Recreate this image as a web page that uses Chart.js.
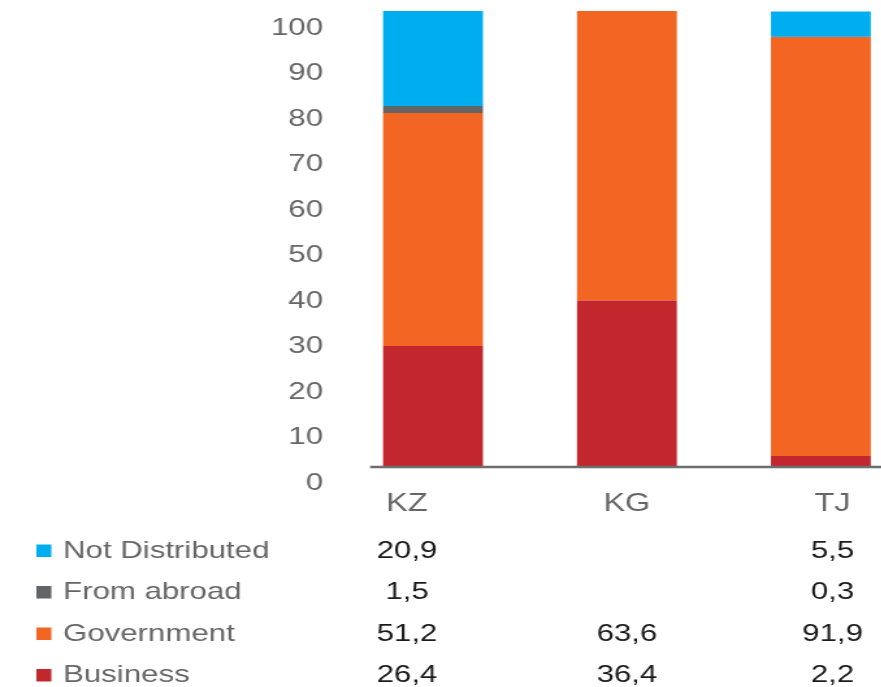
<!DOCTYPE html>
<html lang="en">
<head>
  <meta charset="UTF-8" />
  <title>R&amp;D Funding Sources</title>
  <script src="https://cdn.jsdelivr.net/npm/chart.js"></script>
  <style>
    body {
      margin: 0;
      background: #fff;
    }

    /* canvas is drawn narrow and widened by CSS, which gives the wide lettering */
    .wrap {
      width: 881px;
      height: 687px;
      overflow: hidden;
    }
  </style>
</head>
<body>

  <div class="wrap">
    <canvas id="fundingChart" width="710" height="687" style="display:block;width:923px;height:687px"></canvas>
  </div>

  <script>
    const countries = ['KZ', 'KG', 'TJ'];
    const business = [26.4, 36.4, 2.2];
    const government = [51.2, 63.6, 91.9];
    const fromAbroad = [1.5, null, 0.3];
    const notDistributed = [20.9, null, 5.5];

    const FONT = '"Liberation Sans", Arial, sans-serif';
    const GREY_TEXT = '#666666';

    // labels and table cells sit a little off the bar centres
    const colNudge = [-20, 0, 9];

    function fmt(v) {
      return v == null ? '' : v.toFixed(1).replace('.', ',');
    }

    // axis line, category labels and the value table underneath
    const tablePlugin = {
      id: 'dataTable',
      afterDatasetsDraw(chart) {
        const ctx = chart.ctx;
        const xs = chart.scales.x;
        const ys = chart.scales.y;
        const base = ys.getPixelForValue(0);
        const firstBar = chart.getDatasetMeta(0).data[0];

        ctx.save();
        ctx.strokeStyle = '#6d6e71';
        ctx.lineWidth = 2.5;
        ctx.beginPath();
        ctx.moveTo(firstBar.x - firstBar.width / 2 - 10, base + 1);
        ctx.lineTo(chart.chartArea.right, base + 1);
        ctx.stroke();

        ctx.textBaseline = 'middle';
        ctx.textAlign = 'center';
        ctx.fillStyle = GREY_TEXT;
        ctx.font = '25px ' + FONT;
        countries.forEach((c, i) => {
          ctx.fillText(c, xs.getPixelForValue(i) + colNudge[i], base + 38);
        });

        // rows listed top-down, the reverse of stacking order
        const rows = chart.data.datasets.slice().reverse();
        rows.forEach((ds, r) => {
          const y = 551 + r * 41.5;
          ctx.fillStyle = ds.backgroundColor;
          ctx.fillRect(28, y - 6.5, 11.5, 12.5);

          ctx.textAlign = 'left';
          ctx.fillStyle = GREY_TEXT;
          ctx.font = '24px ' + FONT;
          ctx.fillText(ds.label, 48.5, y);

          ctx.textAlign = 'center';
          ctx.fillStyle = '#1a1a1a';
          ds.data.forEach((v, i) => {
            ctx.fillText(fmt(v), xs.getPixelForValue(i) + colNudge[i], y);
          });
        });
        ctx.restore();
      }
    };

    const ctx = document.getElementById('fundingChart').getContext('2d');

    const chart = new Chart(ctx, {
      type: 'bar',
      data: {
        labels: countries,
        datasets: [
          { label: 'Business', data: business, backgroundColor: '#c1272d' },
          { label: 'Government', data: government, backgroundColor: '#f26522' },
          { label: 'From abroad', data: fromAbroad, backgroundColor: '#636466' },
          { label: 'Not Distributed', data: notDistributed, backgroundColor: '#00aeef' }
        ]
      },
      options: {
        responsive: false,
        animation: false,
        layout: { padding: { top: 11, right: 4, bottom: 0, left: 0 } },
        datasets: {
          bar: { barPercentage: 1, categoryPercentage: 0.515, borderWidth: 0 }
        },
        plugins: {
          legend: { display: false },
          tooltip: { enabled: false }
        },
        scales: {
          x: {
            stacked: true,
            grid: { display: false },
            border: { display: false },
            ticks: { display: false },
            afterFit(scale) { scale.height = 221; }
          },
          y: {
            stacked: true,
            min: 0,
            max: 100,
            grid: { display: false, drawTicks: false },
            border: { display: false },
            ticks: {
              stepSize: 10,
              padding: 10,
              labelOffset: 17,
              color: GREY_TEXT,
              font: { family: FONT, size: 24 }
            },
            afterFit(scale) {
              scale.width = 258.5;
              scale.paddingTop = 0;
              scale.paddingBottom = 0;
            }
          }
        }
      },
      plugins: [tablePlugin]
    });
  </script>

</body>
</html>
